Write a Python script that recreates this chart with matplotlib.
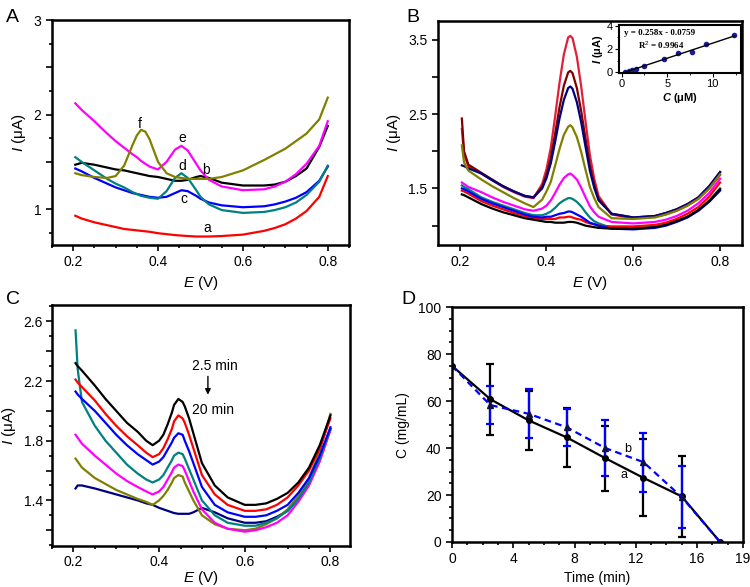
import matplotlib
matplotlib.use("Agg")
import matplotlib.pyplot as plt
from matplotlib.ticker import MultipleLocator, FixedLocator

plt.rcParams['font.family'] = ['Liberation Sans', 'DejaVu Sans']
plt.rcParams['mathtext.fontset'] = 'custom'
plt.rcParams['mathtext.it'] = 'Liberation Sans:italic'
plt.rcParams['mathtext.rm'] = 'Liberation Sans'
plt.rcParams['mathtext.bf'] = 'Liberation Sans:bold'
if 'mathtext.bfit' in plt.rcParams:
    plt.rcParams['mathtext.bfit'] = 'Liberation Sans:italic:bold'
    BOLD_C = '$\\mathbfit{C}$ (μM)'
    BOLD_I = '$\\mathbfit{I}$ (μA)'
else:
    BOLD_C = '$C$ (μM)'
    BOLD_I = '$I$ (μA)'

# ---------------- panel A ----------------
E_a = [0.205, 0.22, 0.25, 0.28, 0.30, 0.32, 0.34, 0.35, 0.36, 0.37, 0.38, 0.40, 0.42,
       0.44, 0.455, 0.47, 0.49, 0.50, 0.52, 0.55, 0.60, 0.65, 0.675, 0.70, 0.725, 0.75, 0.78, 0.80]
A_a = [0.93, 0.90, 0.86, 0.83, 0.81, 0.79, 0.78, 0.775, 0.77, 0.765, 0.76, 0.745, 0.735,
       0.725, 0.72, 0.715, 0.71, 0.71, 0.71, 0.715, 0.73, 0.77, 0.80, 0.84, 0.90, 0.98, 1.13, 1.35]
A_b = [1.47, 1.49, 1.47, 1.44, 1.42, 1.41, 1.39, 1.38, 1.37, 1.36, 1.35, 1.34, 1.32,
       1.30, 1.30, 1.31, 1.34, 1.35, 1.33, 1.28, 1.25, 1.25, 1.26, 1.29, 1.35, 1.43, 1.66, 1.88]
A_c = [1.43, 1.40, 1.33, 1.27, 1.23, 1.20, 1.17, 1.16, 1.15, 1.14, 1.13, 1.12, 1.13,
       1.17, 1.20, 1.19, 1.14, 1.11, 1.07, 1.04, 1.02, 1.03, 1.05, 1.08, 1.12, 1.18, 1.30, 1.45]
A_d = [1.55, 1.50, 1.41, 1.32, 1.27, 1.23, 1.18, 1.16, 1.14, 1.13, 1.12, 1.11, 1.19,
       1.33, 1.38, 1.33, 1.20, 1.13, 1.05, 0.99, 0.96, 0.97, 0.99, 1.02, 1.07, 1.15, 1.29, 1.46]
A_e = [2.12, 2.05, 1.93, 1.80, 1.72, 1.65, 1.58, 1.55, 1.51, 1.48, 1.45, 1.42, 1.50,
       1.63, 1.67, 1.62, 1.48, 1.41, 1.31, 1.24, 1.20, 1.21, 1.24, 1.29, 1.37, 1.48, 1.67, 1.93]
A_f = [1.38, 1.36, 1.34, 1.33, 1.35, 1.46, 1.68, 1.78, 1.84, 1.82, 1.74, 1.50, 1.38,
       1.34, 1.33, 1.32, 1.32, 1.32, 1.32, 1.34, 1.41, 1.52, 1.58, 1.64, 1.72, 1.80, 1.95, 2.18]
A_series = [A_a, A_b, A_c, A_d, A_e, A_f]
A_colors = ['#ff0000', '#000000', '#0000ff', '#008080', '#ff00ff', '#808000']
A_labels = ['a', 'b', 'c', 'd', 'e', 'f']
A_label_xy = [(0.515, 0.80), (0.512, 1.41), (0.46, 1.11), (0.456, 1.46), (0.458, 1.75), (0.356, 1.90)]

# ---------------- panel B ----------------
E_b = [0.205, 0.21, 0.22, 0.25, 0.275, 0.30, 0.325, 0.35, 0.37, 0.39, 0.40, 0.41, 0.42, 0.43,
       0.44, 0.45, 0.455, 0.46, 0.47, 0.48, 0.49, 0.50, 0.51, 0.52, 0.55, 0.60, 0.65, 0.675,
       0.70, 0.725, 0.75, 0.775, 0.80]
B_black = [1.42, 1.41, 1.38, 1.29, 1.23, 1.18, 1.14, 1.10, 1.08, 1.06, 1.05, 1.05, 1.04, 1.04,
           1.04, 1.05, 1.05, 1.05, 1.04, 1.02, 1.00, 0.99, 0.98, 0.97, 0.96, 0.96, 0.98, 1.01,
           1.06, 1.12, 1.21, 1.33, 1.49]
B_red = [1.47, 1.46, 1.43, 1.33, 1.27, 1.22, 1.17, 1.13, 1.10, 1.09, 1.09, 1.09, 1.09, 1.11,
         1.11, 1.12, 1.12, 1.11, 1.09, 1.08, 1.05, 1.03, 1.02, 1.00, 0.99, 0.99, 1.01, 1.04,
         1.09, 1.16, 1.25, 1.39, 1.58]
B_blue = [1.50, 1.49, 1.46, 1.36, 1.30, 1.25, 1.20, 1.15, 1.12, 1.11, 1.12, 1.12, 1.14, 1.16,
          1.17, 1.19, 1.19, 1.18, 1.15, 1.12, 1.08, 1.04, 1.02, 1.00, 0.96, 0.95, 0.97, 1.00,
          1.05, 1.11, 1.20, 1.32, 1.47]
B_teal = [1.54, 1.52, 1.49, 1.38, 1.32, 1.27, 1.22, 1.17, 1.14, 1.14, 1.16, 1.19, 1.24, 1.30,
          1.34, 1.37, 1.37, 1.36, 1.32, 1.26, 1.18, 1.11, 1.06, 1.03, 0.97, 0.96, 0.98, 1.01,
          1.06, 1.12, 1.21, 1.34, 1.50]
B_magenta = [1.58, 1.56, 1.52, 1.45, 1.38, 1.32, 1.27, 1.22, 1.20, 1.23, 1.27, 1.34, 1.44, 1.55,
             1.64, 1.69, 1.70, 1.68, 1.62, 1.51, 1.38, 1.26, 1.18, 1.12, 1.05, 1.03, 1.05, 1.08,
             1.13, 1.20, 1.30, 1.44, 1.63]
B_olive = [2.08, 1.85, 1.74, 1.62, 1.53, 1.45, 1.37, 1.30, 1.25, 1.35, 1.46, 1.59, 1.81, 2.03,
           2.22, 2.33, 2.35, 2.32, 2.19, 1.99, 1.75, 1.52, 1.37, 1.25, 1.10, 1.09, 1.11, 1.15,
           1.20, 1.27, 1.36, 1.50, 1.69]
B_navy = [1.81, 1.80, 1.77, 1.70, 1.61, 1.53, 1.46, 1.40, 1.38, 1.50, 1.64, 1.84, 2.13, 2.44,
          2.69, 2.85, 2.87, 2.84, 2.66, 2.39, 2.06, 1.74, 1.51, 1.34, 1.16, 1.11, 1.13, 1.17,
          1.22, 1.29, 1.38, 1.53, 1.72]
B_maroon = [2.44, 2.00, 1.82, 1.71, 1.62, 1.53, 1.46, 1.40, 1.38, 1.52, 1.68, 1.91, 2.24, 2.59,
            2.88, 3.06, 3.08, 3.05, 2.85, 2.54, 2.17, 1.81, 1.55, 1.36, 1.16, 1.11, 1.13, 1.17,
            1.22, 1.29, 1.38, 1.53, 1.72]
B_crimson = [2.30, 1.95, 1.80, 1.70, 1.61, 1.52, 1.45, 1.39, 1.37, 1.56, 1.76, 2.05, 2.47, 2.92,
             3.30, 3.53, 3.55, 3.52, 3.27, 2.87, 2.40, 1.95, 1.63, 1.40, 1.15, 1.10, 1.12, 1.15,
             1.20, 1.27, 1.36, 1.50, 1.68]
B_series = [B_crimson, B_maroon, B_navy, B_olive, B_magenta, B_teal, B_red, B_blue, B_black]
B_colors = ['#e0203a', '#800000', '#000080', '#808000', '#ff00ff', '#008080', '#ff0000', '#0000ff', '#000000']

# inset calibration
inset_C = [0.36, 0.76, 1.09, 1.56, 2.46, 4.64, 6.2, 7.7, 9.24, 12.36]
inset_I = [0.08, 0.14, 0.17, 0.31, 0.57, 1.17, 1.63, 1.77, 2.4, 3.17]
fit_slope = 0.258
fit_icpt = -0.0759
fit_x = [0.3, 12.4]

# ---------------- panel C ----------------
E_c = [0.205, 0.21, 0.22, 0.25, 0.275, 0.30, 0.325, 0.35, 0.37, 0.385, 0.40, 0.41, 0.42, 0.43,
       0.435, 0.445, 0.455, 0.46, 0.47, 0.48, 0.50, 0.53, 0.56, 0.60, 0.625, 0.65, 0.675, 0.70,
       0.725, 0.75, 0.775, 0.80]
C_black = [2.32, 2.30, 2.27, 2.17, 2.08, 2.00, 1.92, 1.86, 1.80, 1.77, 1.80, 1.84, 1.91, 1.99,
           2.04, 2.08, 2.06, 2.03, 1.95, 1.85, 1.65, 1.50, 1.42, 1.37, 1.37, 1.38, 1.41, 1.45,
           1.52, 1.62, 1.77, 1.97]
C_red = [2.21, 2.19, 2.16, 2.07, 1.98, 1.90, 1.83, 1.77, 1.72, 1.69, 1.71, 1.75, 1.81, 1.88,
         1.93, 1.97, 1.95, 1.92, 1.84, 1.75, 1.57, 1.44, 1.37, 1.33, 1.33, 1.34, 1.37, 1.42,
         1.50, 1.60, 1.75, 1.95]
C_blue = [2.13, 2.11, 2.08, 2.00, 1.92, 1.84, 1.77, 1.71, 1.67, 1.64, 1.66, 1.69, 1.74, 1.79,
          1.82, 1.85, 1.84, 1.80, 1.73, 1.65, 1.49, 1.37, 1.32, 1.29, 1.29, 1.30, 1.33, 1.37,
          1.45, 1.55, 1.70, 1.89]
C_teal = [2.54, 2.28, 2.06, 1.90, 1.80, 1.72, 1.64, 1.58, 1.54, 1.52, 1.54, 1.57, 1.62, 1.67,
          1.70, 1.72, 1.71, 1.68, 1.61, 1.54, 1.40, 1.30, 1.25, 1.23, 1.23, 1.25, 1.28, 1.33,
          1.41, 1.52, 1.68, 1.88]
C_magenta = [1.84, 1.82, 1.78, 1.70, 1.64, 1.58, 1.53, 1.49, 1.46, 1.44, 1.46, 1.49, 1.54, 1.59,
             1.62, 1.64, 1.63, 1.60, 1.53, 1.46, 1.34, 1.25, 1.21, 1.19, 1.20, 1.22, 1.25, 1.30,
             1.39, 1.50, 1.66, 1.87]
C_olive = [1.68, 1.66, 1.62, 1.55, 1.51, 1.47, 1.44, 1.41, 1.39, 1.37, 1.40, 1.43, 1.47, 1.52,
           1.55, 1.57, 1.56, 1.52, 1.46, 1.40, 1.30, 1.24, 1.21, 1.20, 1.21, 1.24, 1.28, 1.34,
           1.43, 1.55, 1.73, 1.98]
C_navy = [1.48, 1.50, 1.50, 1.48, 1.46, 1.44, 1.42, 1.40, 1.38, 1.37, 1.35, 1.34, 1.33, 1.32,
          1.315, 1.31, 1.31, 1.31, 1.31, 1.32, 1.35, 1.32, 1.28, 1.25, 1.25, 1.26, 1.29, 1.33,
          1.41, 1.52, 1.68, 1.88]
C_series = [C_navy, C_olive, C_magenta, C_teal, C_blue, C_red, C_black]
C_colors = ['#000080', '#808000', '#ff00ff', '#008080', '#0000ff', '#ff0000', '#000000']

# ---------------- panel D ----------------
t = [0, 2.5, 5, 7.5, 10, 12.5, 15, 17.5]
D_a = [75, 60.8, 51.8, 44.5, 35.7, 27.3, 19.4, 0]
D_a_err = [0, 15.1, 12.6, 12.5, 13.9, 16.4, 17.3, 0]
D_b = [75, 58.3, 54.6, 48.8, 40.0, 34.0, 19.1, 0]
D_b_err = [0, 8.0, 10.5, 7.8, 12.0, 12.6, 13.3, 0]


def style(ax, lw=1.8, pad=3.5):
    for s in ax.spines.values():
        s.set_linewidth(lw)
    ax.tick_params(which='both', direction='out', top=False, right=False, labelsize=10,
                   width=1.2, pad=pad)
    ax.tick_params(which='major', length=4)
    ax.tick_params(which='minor', length=2.5)


fig = plt.figure(figsize=(7.5, 5.87), dpi=100)

# A
ax = fig.add_axes([0.0693, 0.5826, 0.396, 0.383])
for y, c in zip(A_series, A_colors):
    ax.plot(E_a, y, color=c, lw=1.6)
for lab, (x, y) in zip(A_labels, A_label_xy):
    ax.text(x, y, lab, fontsize=10, ha='center', va='center')
ax.set_xlim(0.15, 0.85)
ax.set_ylim(0.62, 3.0)
ax.xaxis.set_major_locator(FixedLocator([0.2, 0.4, 0.6, 0.8]))
ax.xaxis.set_minor_locator(MultipleLocator(0.05))
ax.set_yticks([1, 1.5, 2, 2.5, 3], ['1', '', '2', '', '3'])
ax.yaxis.set_minor_locator(MultipleLocator(0.25))
style(ax)
ax.set_xlabel('$E$ (V)', fontsize=11, labelpad=3)
ax.set_ylabel('$I$ (μA)', fontsize=11, labelpad=4)
fig.text(0.008, 0.985, 'A', fontsize=14, va='top')

# B
ax = fig.add_axes([0.584, 0.5826, 0.405, 0.3816])
for y, c in zip(B_series, B_colors):
    ax.plot(E_b, y, color=c, lw=1.6)
ax.set_xlim(0.15, 0.85)
ax.set_ylim(0.74, 3.75)
ax.set_xticks([0.2, 0.4, 0.6, 0.8])
ax.set_yticks([1.0, 1.5, 2.0, 2.5, 3.0, 3.5], ['', '1.5', '', '2.5', '', '3.5'])
style(ax)
ax.set_xlabel('$E$ (V)', fontsize=11, labelpad=3)
ax.set_ylabel('$I$ (μA)', fontsize=11, labelpad=4)
fig.text(0.542, 0.985, 'B', fontsize=14, va='top')

ins = fig.add_axes([0.8253, 0.8756, 0.1627, 0.0818])
ins.plot(inset_C, inset_I, 'o', color='#1a1aa0', ms=3)
ins.plot(fit_x, [fit_slope * x + fit_icpt for x in fit_x], color='black', lw=1)
ins.set_xlim(-0.3, 13.1)
ins.set_ylim(-0.05, 4.05)
ins.set_xticks([0, 5, 10])
ins.set_yticks([0, 2, 4])
ins.xaxis.set_minor_locator(MultipleLocator(2.5))
ins.yaxis.set_minor_locator(MultipleLocator(1))
for s in ins.spines.values():
    s.set_linewidth(1.5)
ins.tick_params(which='both', direction='out', labelsize=8, pad=1.5, top=False, right=False)
ins.tick_params(which='major', length=3)
ins.tick_params(which='minor', length=1.5)
ins.set_xlabel(BOLD_C, fontsize=8, fontweight='bold', labelpad=1)
ins.set_ylabel(BOLD_I, fontsize=8, fontweight='bold', labelpad=1)
ins.text(0.3, 3.4, 'y = 0.258x - 0.0759', fontsize=6.5, fontweight='bold',
         family='Liberation Serif', va='center')
ins.text(1.8, 2.3, 'R$^2$ = 0.9964', fontsize=6.5, fontweight='bold',
         family='Liberation Serif', va='center')

# C
ax = fig.add_axes([0.0693, 0.0698, 0.397, 0.4106])
for y, c in zip(C_series, C_colors):
    ax.plot(E_c, y, color=c, lw=1.6)
ax.set_xlim(0.15, 0.845)
ax.set_ylim(1.094, 2.71)
ax.set_xticks([0.2, 0.4, 0.6, 0.8])
ax.xaxis.set_minor_locator(MultipleLocator(0.05))
ax.set_yticks([1.2, 1.4, 1.6, 1.8, 2.0, 2.2, 2.4, 2.6], ['', '1.4', '', '1.8', '', '2.2', '', '2.6'])
ax.yaxis.set_minor_locator(MultipleLocator(0.1))
style(ax, pad=2.5)
ax.annotate('', xy=(0.514, 2.09), xytext=(0.514, 2.25),
            arrowprops=dict(arrowstyle='-|>', color='black', lw=1, mutation_scale=8))
ax.text(0.531, 2.30, '2.5 min', fontsize=10, ha='center', va='center')
ax.text(0.526, 2.005, '20 min', fontsize=10, ha='center', va='center')
ax.set_xlabel('$E$ (V)', fontsize=11, labelpad=0)
ax.set_ylabel('$I$ (μA)', fontsize=11, labelpad=4)
fig.text(0.008, 0.505, 'C', fontsize=14, va='top')

# D
ax = fig.add_axes([0.6027, 0.0767, 0.388, 0.400])
ax.errorbar(t[1:-1], D_a[1:-1], yerr=D_a_err[1:-1], fmt='none', ecolor='black',
            elinewidth=1.6, capsize=3, capthick=1.6)
ax.errorbar(t[1:-1], D_b[1:-1], yerr=D_b_err[1:-1], fmt='none', ecolor='#0000ff',
            elinewidth=1.6, capsize=3, capthick=1.6)
ax.plot(t, D_a, color='black', lw=1.6, marker='o', ms=4)
ax.plot(t, D_b, color='#0000ff', lw=1.6, ls=(0, (3, 2)), marker='^', ms=5,
        mfc='#111144', mec='#111144')
ax.text(11.2, 28.4, 'a', fontsize=9, ha='center', va='center')
ax.text(11.45, 39.5, 'b', fontsize=9, ha='center', va='center')
ax.set_xlim(0, 19)
ax.set_ylim(0, 100)
ax.set_xticks([0, 4, 8, 12, 16, 19])
ax.xaxis.set_minor_locator(MultipleLocator(1))
ax.yaxis.set_major_locator(MultipleLocator(20))
ax.yaxis.set_minor_locator(MultipleLocator(5))
style(ax)
ax.set_xlabel('Time (min)', fontsize=10, labelpad=3)
ax.set_ylabel('C (mg/mL)', fontsize=10, labelpad=6)
fig.text(0.535, 0.505, 'D', fontsize=14, va='top')

fig.savefig('out.png', dpi=100)
